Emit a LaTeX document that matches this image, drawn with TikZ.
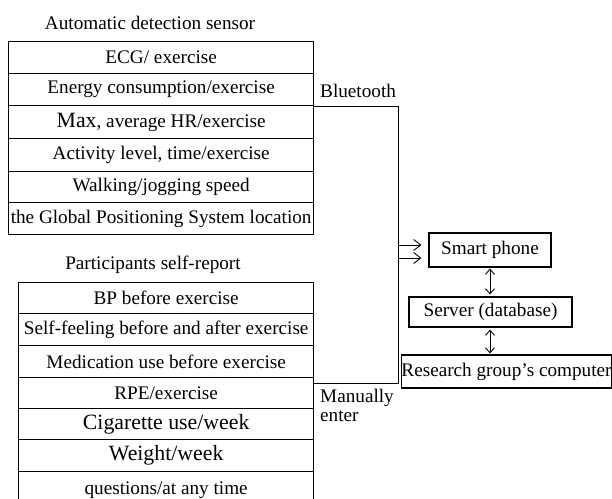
\documentclass[tikz,border=0pt]{standalone}
\usepackage{fontspec}
\setmainfont{Liberation Serif}
\usetikzlibrary{arrows.meta}
\newcommand{\nsz}{\fontsize{19.2}{17}\selectfont}
\newcommand{\bsz}{\fontsize{21.8}{22}\selectfont}
\tikzset{
  cell/.style={draw, line width=1.3pt, inner sep=0pt, font=\nsz, anchor=north west},
  box/.style={draw, line width=1.2pt, inner sep=0pt, font=\nsz},
  lbl/.style={font=\nsz, inner sep=0pt},
  conn/.style={line width=0.9pt, -{Straight Barb[length=7pt,width=11pt,line width=0.9pt]}},
  dbl/.style={line width=0.9pt, {Straight Barb[length=5pt,width=9pt,line width=0.9pt]}-{Straight Barb[length=5pt,width=9pt,line width=0.9pt]}}
}
\begin{document}
\begin{tikzpicture}[x=1pt,y=-1pt]
\useasboundingbox (0,0) rectangle (612,498);
% top table
\node[lbl] (ttitle) at (150,23) {Automatic detection sensor};
\node[cell, minimum width=305pt, minimum height=32pt] (t1) at (8,41) {ECG/ exercise};
\node[cell, minimum width=305pt, minimum height=32pt] (t2) at (8,73) {Energy consumption/exercise};
\node[cell, minimum width=305pt, minimum height=33pt] (t3) at (8,105) {{\bsz Max}, average HR/exercise};
\node[cell, minimum width=305pt, minimum height=33pt] (t4) at (8,138) {Activity level, time/exercise};
\node[cell, minimum width=305pt, minimum height=31pt] (t5) at (8,171) {Walking/jogging speed};
\node[cell, minimum width=305pt, minimum height=32pt] (t6) at (8,202) {the Global Positioning System location};
% bottom table
\node[lbl] (btitle) at (153,265) {Participants self-report};
\node[cell, minimum width=295pt, minimum height=31pt] (b1) at (18,282) {BP before exercise};
\node[cell, minimum width=295pt, minimum height=32pt] (b2) at (18,313) {Self-feeling before and after exercise};
\node[cell, minimum width=295pt, minimum height=32pt] (b3) at (18,345) {Medication use before exercise};
\node[cell, minimum width=295pt, minimum height=31pt] (b4) at (18,377) {RPE/exercise};
\node[cell, minimum width=295pt, minimum height=31pt] (b5) at (18,408) {\bsz Cigarette use/week};
\node[cell, minimum width=295pt, minimum height=32pt] (b6) at (18,439) {\bsz Weight/week};
\node[cell, minimum width=295pt, minimum height=38pt] (b7) at (18,471) {questions/at any time};
% right side
\node[box, minimum width=122pt, minimum height=34pt] (phone) at (490,250) {Smart phone};
\node[box, minimum width=163pt, minimum height=30pt] (server) at (490.5,312) {Server (database)};
\node[box, minimum width=209pt, minimum height=33pt] (pc) at (506.5,371.5) {Research group's computer};
% labels
\node[lbl, anchor=west] (bt) at (320,91) {Bluetooth};
\node[lbl, anchor=north west, align=left, font=\fontsize{19.2}{19}\selectfont] (me) at (320,389) {Manually\\enter};
% connectors
\path (398,0) coordinate (xj);
\coordinate (j1) at (t2.south east -| xj);
\coordinate (j2) at ([yshift=-6pt]b4.north east -| xj);
\draw[conn] (t2.south east) -- (j1) |- ([xshift=-7pt,yshift=-8pt]phone.west);
\draw[conn] ([yshift=-6pt]b4.north east) -- (j2) |- ([xshift=-7pt,yshift=5pt]phone.west);
\draw[dbl] ([yshift=-1pt]phone.south) -- ([yshift=2pt]phone.south |- server.north);
\draw[dbl] ([yshift=-2pt]phone.south |- server.south) -- ([yshift=1pt]phone.south |- pc.north);
\end{tikzpicture}
\end{document}
